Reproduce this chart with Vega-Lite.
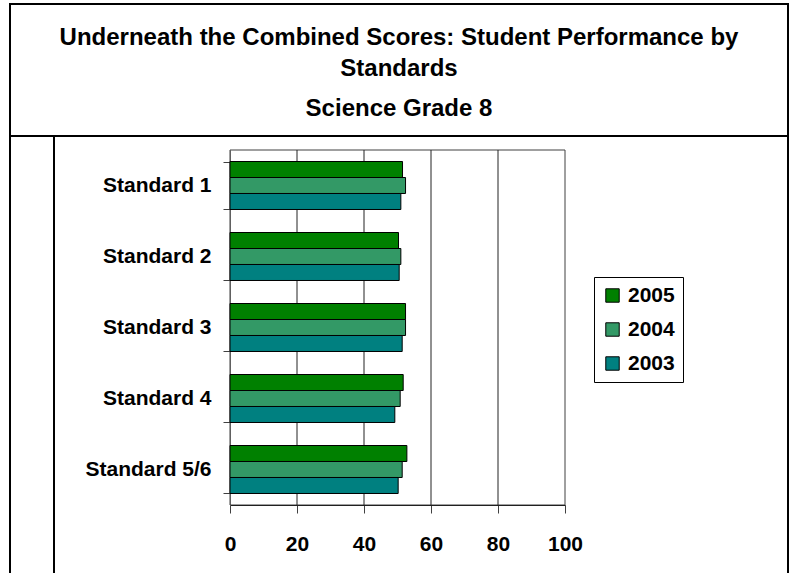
{
  "$schema": "https://vega.github.io/schema/vega-lite/v6.json",
  "padding": {"left": 9, "top": 3, "right": 0, "bottom": 0},
  "background": "white",
  "datasets": {
    "scores": [
      {"standard": "Standard 1", "year": "2005", "score": 51.5},
      {"standard": "Standard 1", "year": "2004", "score": 52.4},
      {"standard": "Standard 1", "year": "2003", "score": 51.0},
      {"standard": "Standard 2", "year": "2005", "score": 50.3},
      {"standard": "Standard 2", "year": "2004", "score": 51.0},
      {"standard": "Standard 2", "year": "2003", "score": 50.5},
      {"standard": "Standard 3", "year": "2005", "score": 52.4},
      {"standard": "Standard 3", "year": "2004", "score": 52.4},
      {"standard": "Standard 3", "year": "2003", "score": 51.4},
      {"standard": "Standard 4", "year": "2005", "score": 51.7},
      {"standard": "Standard 4", "year": "2004", "score": 50.8},
      {"standard": "Standard 4", "year": "2003", "score": 49.2},
      {"standard": "Standard 5/6", "year": "2005", "score": 52.8},
      {"standard": "Standard 5/6", "year": "2004", "score": 51.4},
      {"standard": "Standard 5/6", "year": "2003", "score": 50.2}
    ],
    "grid": [{"g": 20}, {"g": 40}, {"g": 60}, {"g": 80}],
    "blank": [{"k": 1}]
  },
  "vconcat": [
    {
      "width": 778,
      "height": 132,
      "view": {"stroke": "black", "strokeWidth": 2},
      "title": {
        "text": ["Underneath the Combined Scores: Student Performance by", "Standards"],
        "subtitle": "Science Grade 8",
        "orient": "top",
        "anchor": "middle",
        "frame": "group",
        "offset": -117,
        "font": "Liberation Sans",
        "fontSize": 24,
        "fontWeight": "bold",
        "color": "black",
        "lineHeight": 31,
        "subtitleFont": "Liberation Sans",
        "subtitleFontSize": 24,
        "subtitleFontWeight": "bold",
        "subtitleColor": "black",
        "subtitlePadding": 16
      },
      "data": {"name": "blank"},
      "mark": {"type": "text"},
      "encoding": {"text": {"value": ""}}
    },
    {
      "hconcat": [
        {
          "width": 44,
          "height": 445,
          "view": {"stroke": "black", "strokeWidth": 2},
          "data": {"name": "blank"},
          "mark": {"type": "text"},
          "encoding": {"text": {"value": ""}}
        },
        {
          "width": 734,
          "height": 445,
          "view": {"stroke": "black", "strokeWidth": 2},
          "resolve": {"scale": {"y": "independent"}},
          "layer": [
            {
              "data": {"name": "blank"},
              "mark": {"type": "rect", "fill": "transparent", "stroke": "#404040", "strokeWidth": 1},
              "encoding": {
                "x": {
                  "datum": 0,
                  "type": "quantitative",
                  "scale": {"domain": [0, 100], "range": [176, 511], "nice": false},
                  "axis": {
                    "orient": "bottom",
                    "offset": -76,
                    "title": null,
                    "grid": false,
                    "values": [0, 20, 40, 60, 80, 100],
                    "domainColor": "black",
                    "domainWidth": 1,
                    "tickColor": "#404040",
                    "tickSize": 8,
                    "labelFont": "Liberation Sans",
                    "labelFontSize": 21,
                    "labelFontWeight": "bold",
                    "labelColor": "black",
                    "labelPadding": 20,
                    "labelFlush": false
                  }
                },
                "x2": {"datum": 100},
                "y": {"datum": 0, "type": "quantitative", "scale": {"domain": [0, 1], "range": [14, 369], "nice": false}, "axis": null},
                "y2": {"datum": 1}
              }
            },
            {
              "data": {"name": "grid"},
              "mark": {"type": "rule", "color": "#222222", "strokeWidth": 1},
              "encoding": {
                "x": {"field": "g", "type": "quantitative", "scale": {"domain": [0, 100], "range": [176, 511], "nice": false}},
                "y": {"datum": 0, "type": "quantitative", "scale": {"domain": [0, 1], "range": [14, 369], "nice": false}, "axis": null},
                "y2": {"datum": 1}
              }
            },
            {
              "data": {"name": "scores"},
              "mark": {"type": "bar", "stroke": "black", "strokeWidth": 1},
              "encoding": {
                "y": {
                  "field": "standard",
                  "type": "nominal",
                  "sort": ["Standard 1", "Standard 2", "Standard 3", "Standard 4", "Standard 5/6"],
                  "scale": {"range": [14, 369], "paddingInner": 0.324, "paddingOuter": 0.162},
                  "axis": {
                    "orient": "left",
                    "offset": -176,
                    "title": null,
                    "grid": false,
                    "domainColor": "#808080",
                    "domainWidth": 1,
                    "tickBand": "extent",
                    "tickSize": 7,
                    "tickColor": "#404040",
                    "labelFont": "Liberation Sans",
                    "labelFontSize": 21,
                    "labelFontWeight": "bold",
                    "labelColor": "black",
                    "labelPadding": 12,
                    "labelLimit": 300
                  }
                },
                "yOffset": {
                  "field": "year",
                  "type": "nominal",
                  "sort": ["2005", "2004", "2003"],
                  "scale": {"paddingInner": 0, "paddingOuter": 0}
                },
                "x": {
                  "field": "score",
                  "type": "quantitative",
                  "scale": {"domain": [0, 100], "range": [176, 511], "nice": false}
                },
                "color": {
                  "field": "year",
                  "type": "nominal",
                  "scale": {"domain": ["2005", "2004", "2003"], "range": ["#008000", "#339966", "#008080"]},
                  "legend": {
                    "orient": "none",
                    "legendX": 584,
                    "legendY": 273,
                    "title": null,
                    "direction": "vertical",
                    "strokeColor": "black",
                    "fillColor": "white",
                    "padding": 8,
                    "symbolType": "square",
                    "symbolSize": 180,
                    "symbolStrokeColor": "black",
                    "symbolStrokeWidth": 1,
                    "symbolOpacity": 1,
                    "labelFont": "Liberation Sans",
                    "labelFontSize": 21,
                    "labelFontWeight": "bold",
                    "labelColor": "black",
                    "labelOffset": 5,
                    "rowPadding": 12
                  }
                }
              }
            }
          ]
        }
      ],
      "spacing": 0,
      "bounds": "flush"
    }
  ],
  "spacing": 0,
  "bounds": "flush"
}
